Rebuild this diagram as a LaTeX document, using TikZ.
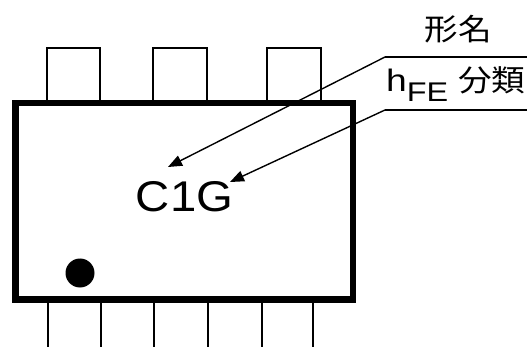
\documentclass[tikz,border=0pt]{standalone}
\usepackage{fontspec}
\setmainfont{Liberation Sans}
\newfontfamily\cjk[FakeStretch=1.12]{Noto Sans CJK JP}
\newfontfamily\wide[FakeStretch=1.1]{Liberation Sans}
\newfontfamily\wider[FakeStretch=1.2]{Liberation Sans}
\usetikzlibrary{arrows.meta}
\begin{document}
\begin{tikzpicture}[x=1pt,y=-1pt,
  body/.style={draw=black,line width=6.5pt,fill=white},
  pin/.style={draw=black,line width=1.4pt},
  leader/.style={draw=black,line width=1.4pt},
  leaderarrow/.style={draw=black,line width=1.4pt,-{Triangle[length=14pt,width=11pt]}},
  lbl/.style={inner sep=0pt,text=black}]
\useasboundingbox (0,0) rectangle (527,347);
% top pins
\draw[pin] (47,100) -- (47,48) -- (100,48) -- (100,100);
\draw[pin] (153,100) -- (153,48) -- (207,48) -- (207,100);
\draw[pin] (267,100) -- (267,48) -- (321,48) -- (321,100);
% bottom pins
\foreach \px in {48,101,154,208,262,313}{
  \draw[pin] (\px,296) -- (\px,350);
}
% body
\node[body,minimum width=337.5pt,minimum height=196pt,inner sep=0pt,anchor=north west] (pkg) at (12,100) {};
% pin-1 dot
\fill[black] (80,273) circle (14.5pt);
% marking
\node[lbl,anchor=base,font={\wide\fontsize{43}{43}\selectfont}] (mark) at (184.5,212) {C1G};
% labels
\node[lbl,anchor=base,font={\cjk\fontsize{30}{30}\selectfont}] (type) at (458,41) {形名};
\node[lbl,anchor=base west] (hfe) at (386,92) {{\wider\fontsize{31}{31}\selectfont h}\raisebox{-10pt}{\wider\fontsize{27}{27}\selectfont FE}\hspace{10pt}{\cjk\fontsize{30}{30}\selectfont 分類}};
% leader lines
\coordinate (k1) at (385,57);
\coordinate (e1) at (527,57);
\coordinate (t1) at (168,167);
\coordinate (k2) at (385,110);
\coordinate (e2) at (527,110);
\coordinate (t2) at (230,182);
\draw[leader] (e1) -- (k1);
\draw[leaderarrow] (k1) -- (t1);
\draw[leader] (e2) -- (k2);
\draw[leaderarrow] (k2) -- (t2);
\end{tikzpicture}
\end{document}
